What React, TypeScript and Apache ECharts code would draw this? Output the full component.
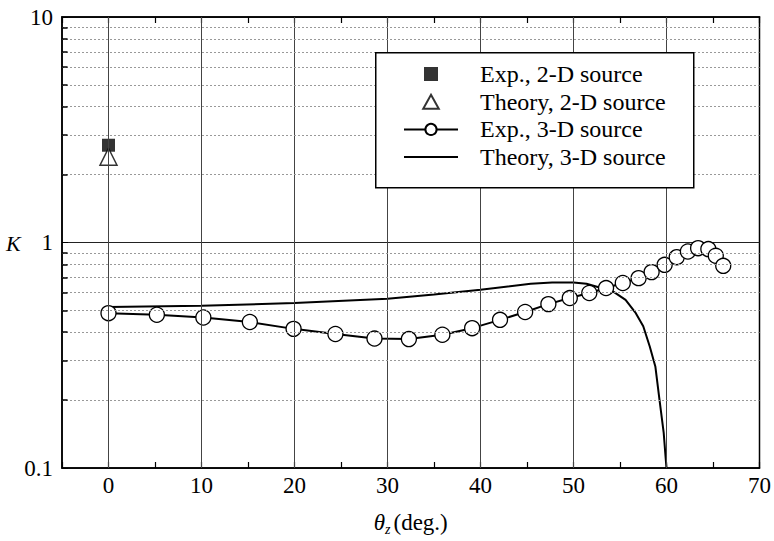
import React, { useEffect, useRef } from "react";
import * as echarts from "echarts";

const exp2DTheta = [0];
const exp2DK = [2.7];
const theory2DTheta = [0];
const theory2DK = [2.4];

const exp3DTheta = [0, 5.2, 10.2, 15.2, 19.9, 24.4, 28.6, 32.3, 35.9, 39.1, 42.1, 44.8, 47.3, 49.6, 51.7, 53.5, 55.3, 57.0, 58.4, 59.8, 61.1, 62.3, 63.4, 64.5, 65.3, 66.1];
const exp3DK = [0.486, 0.478, 0.465, 0.444, 0.414, 0.393, 0.375, 0.373, 0.39, 0.417, 0.454, 0.492, 0.533, 0.567, 0.597, 0.628, 0.661, 0.695, 0.739, 0.796, 0.861, 0.912, 0.944, 0.935, 0.873, 0.788];

const theory3DTheta = [0, 10, 20, 30, 35, 40, 45.4, 47.7, 50, 51.4, 52.8, 54.2, 55.6, 56.7, 57.5, 58.2, 58.8, 59.2, 59.7, 59.9, 60];
const theory3DK = [0.517, 0.524, 0.539, 0.563, 0.588, 0.617, 0.656, 0.665, 0.665, 0.656, 0.632, 0.609, 0.557, 0.486, 0.425, 0.346, 0.282, 0.208, 0.143, 0.112, 0.1];

const xTicks = [0, 10, 20, 30, 40, 50, 60];
const yMinor = [0.2, 0.3, 0.4, 0.5, 0.6, 0.7, 0.8, 0.9, 2, 3, 4, 5, 6, 7, 8, 9];

const names = ["Exp., 2-D source", "Theory, 2-D source", "Exp., 3-D source", "Theory, 3-D source"];

const FONT = "Times New Roman, Liberation Serif, serif";

const zip = (a: number[], b: number[]) => a.map((v, i) => [v, b[i]]);

export default function App() {
  const ref = useRef<HTMLDivElement>(null);
  useEffect(() => {
    if (!ref.current) return;
    const chart = echarts.init(ref.current, null, { renderer: "svg" });
    const option: any = {
      animation: false,
      textStyle: { fontFamily: FONT, color: "#000" },
      grid: { left: 62, right: 11, top: 17, bottom: 73, show: true, borderColor: "#000", borderWidth: 1.5 },
      xAxis: [
        {
          type: "value",
          min: -5,
          max: 70,
          interval: 5,
          axisLine: { onZero: false, lineStyle: { color: "#000", width: 1.5 } },
          axisTick: { inside: true, length: 6, lineStyle: { color: "#000", width: 1.2 } },
          splitLine: { show: false },
          axisLabel: {
            fontSize: 23,
            fontFamily: FONT,
            color: "#000",
            margin: 6,
            formatter: (v: number) => (v >= 0 && v % 10 === 0 ? String(v) : ""),
          },
          name: "{t|θ}{s|z}{d|(deg.)}",
          nameLocation: "middle",
          nameGap: 41,
          nameTextStyle: {
            fontFamily: FONT,
            rich: {
              t: { fontSize: 23, fontStyle: "italic", fontFamily: FONT, color: "#000", lineHeight: 27 },
              s: { fontSize: 14, fontStyle: "italic", fontFamily: FONT, color: "#000", lineHeight: 27, verticalAlign: "bottom", padding: [0, 3, 0, 0] },
              d: { fontSize: 23, fontFamily: FONT, color: "#000", lineHeight: 27 },
            },
          },
        },
        {
          type: "value",
          position: "top",
          min: -5,
          max: 70,
          interval: 5,
          axisLine: { onZero: false, lineStyle: { color: "#000", width: 1.5 } },
          axisTick: { inside: true, length: 6, lineStyle: { color: "#000", width: 1.2 } },
          splitLine: { show: false },
          axisLabel: { show: false },
        },
      ],
      yAxis: {
        type: "log",
        logBase: 10,
        min: 0.1,
        max: 10,
        axisLine: { show: true, onZero: false, lineStyle: { color: "#000", width: 1.5 } },
        axisTick: { inside: true, length: 6, lineStyle: { color: "#000" } },
        splitLine: { show: true, lineStyle: { color: "#222", width: 1 } },
        axisLabel: { fontSize: 23, fontFamily: FONT, color: "#000", margin: 9 },
      },
      legend: {
        data: [
          { name: names[0], icon: "path://M0,0 L10,0 L10,10 L0,10 Z" },
          { name: names[1], icon: "path://M5,0 L10,9 L0,9 Z" },
          { name: names[2] },
          { name: names[3], icon: "path://M0,0 L54,0 L54,2 L0,2 Z" },
        ],
        orient: "vertical",
        left: 403,
        top: 62,
        padding: 0,
        itemWidth: 54,
        itemHeight: 14,
        itemGap: 3.7,
        selectedMode: false,
        z: 10,
        textStyle: { fontSize: 24, fontFamily: FONT, color: "#000", lineHeight: 24, padding: [0, 0, 0, 17] },
      },
      graphic: [
        {
          type: "rect",
          left: 375,
          top: 52,
          z: 8,
          shape: { width: 318, height: 135 },
          style: { fill: "#fff", stroke: "#000", lineWidth: 1.5 },
        },
        {
          type: "text",
          left: 6,
          top: 232,
          style: { text: "K", fontSize: 22, fontStyle: "italic", fontFamily: FONT, fill: "#000" },
        },
      ],
      series: [
        {
          type: "line",
          name: "grid",
          data: [],
          silent: true,
          z: 1,
          markLine: {
            silent: true,
            symbol: "none",
            label: { show: false },
            animation: false,
            data: [
              ...xTicks.map((v) => ({ xAxis: v, lineStyle: { color: "#444", width: 1, type: "solid" } })),
              ...yMinor.map((v) => ({ yAxis: v, lineStyle: { color: "#999", width: 1, type: [2, 2] } })),
              ...yMinor.map((v) => [
                { coord: [-5, v], lineStyle: { color: "#000", width: 1.5, type: "solid" } },
                { coord: [-4.4, v] },
              ]),
            ],
          },
        },
        {
          type: "line",
          name: names[3],
          data: zip(theory3DTheta, theory3DK),
          symbol: "none",
          z: 3,
          lineStyle: { color: "#000", width: 2 },
          itemStyle: { color: "#000" },
        },
        {
          type: "line",
          name: names[2],
          data: zip(exp3DTheta, exp3DK),
          symbol: "circle",
          symbolSize: 15,
          z: 4,
          lineStyle: { color: "#000", width: 2 },
          itemStyle: { color: "#fff", borderColor: "#000", borderWidth: 1.3 },
        },
        {
          type: "scatter",
          name: names[0],
          data: zip(exp2DTheta, exp2DK),
          symbol: "rect",
          symbolSize: 13,
          z: 4,
          itemStyle: { color: "#000" },
        },
        {
          type: "scatter",
          name: names[1],
          data: zip(theory2DTheta, theory2DK),
          symbol: "triangle",
          symbolSize: 17,
          z: 4,
          itemStyle: { color: "#fff", borderColor: "#000", borderWidth: 1.5 },
        },
      ],
    };
    chart.setOption(option);
    return () => chart.dispose();
  }, []);
  return <div ref={ref} style={{ position: "absolute", left: 0, top: 0, width: 774, height: 541 }} />;
}
